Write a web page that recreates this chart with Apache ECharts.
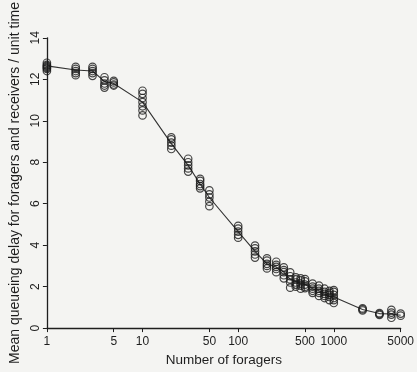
<!DOCTYPE html>
<html>
<head>
<meta charset="utf-8">
<script src="https://cdn.jsdelivr.net/npm/echarts@6/dist/echarts.min.js"></script>
<style>
  html, body { margin: 0; padding: 0; background: #f4f4f2; }
  #chart { width: 417px; height: 372px; }
</style>
</head>
<body>
<div id="chart"></div>
<script>
  // number of foragers in each run group
  var foragers = [1, 2, 3, 4, 5, 10, 20, 30, 40, 50, 100, 150, 200, 250, 300, 350, 400, 450, 500, 600, 700, 800, 900, 1000, 2000, 3000, 4000, 5000];
  // replicate delays, one list per group
  var delays = [
    [12.4, 12.5, 12.55, 12.6, 12.65, 12.7, 12.8],
    [12.2, 12.3, 12.4, 12.5, 12.6],
    [12.17, 12.3, 12.4, 12.5, 12.6],
    [11.6, 11.7, 11.8, 11.95, 12.1],
    [11.7, 11.75, 11.85, 11.93],
    [10.26, 10.5, 10.7, 10.9, 11.1, 11.3, 11.45],
    [8.64, 8.8, 8.95, 9.1, 9.2],
    [7.55, 7.7, 7.85, 8.0, 8.17],
    [6.74, 6.85, 6.95, 7.1, 7.2],
    [5.88, 6.1, 6.3, 6.45, 6.64],
    [4.36, 4.5, 4.65, 4.8, 4.93],
    [3.4, 3.55, 3.7, 3.85, 3.98],
    [2.88, 3.0, 3.1, 3.25, 3.36],
    [2.7, 2.85, 2.95, 3.05, 3.2],
    [2.4, 2.55, 2.7, 2.8, 2.93],
    [1.95, 2.2, 2.35, 2.5, 2.69],
    [2.0, 2.1, 2.2, 2.35, 2.45],
    [1.9, 2.05, 2.15, 2.3, 2.4],
    [1.93, 2.0, 2.1, 2.25, 2.36],
    [1.7, 1.8, 1.9, 2.0, 2.15],
    [1.55, 1.7, 1.8, 1.9, 2.05],
    [1.45, 1.55, 1.65, 1.75, 1.9],
    [1.35, 1.5, 1.6, 1.7, 1.8],
    [1.21, 1.35, 1.45, 1.6, 1.75, 1.83],
    [0.85, 0.9, 0.95],
    [0.64, 0.68, 0.72],
    [0.5, 0.65, 0.75, 0.88],
    [0.6, 0.7]
  ];
  // the line through the groups
  var meanDelay = [12.65, 12.45, 12.4, 11.9, 11.8, 10.9, 8.9, 7.85, 6.95, 6.3, 4.65, 3.7, 3.1, 2.95, 2.7, 2.35, 2.25, 2.15, 2.1, 1.9, 1.8, 1.65, 1.55, 1.5, 0.9, 0.7, 0.68, 0.62];
  var xTicks = [1, 5, 10, 50, 100, 500, 1000, 5000];

  var ink = '#1e1e1e';
  var font = 'Liberation Sans, Arial, sans-serif';

  // x axis is log10(foragers) on a value axis so ticks can sit at 5, 50, 500...
  var lg = function (v) { return Math.log10(v); };
  var xTickPos = xTicks.map(lg);

  var points = [];
  foragers.forEach(function (f, i) {
    delays[i].forEach(function (d) { points.push([lg(f), d]); });
  });
  var linePts = foragers.map(function (f, i) { return [lg(f), meanDelay[i]]; });

  var chart = echarts.init(document.getElementById('chart'));
  chart.setOption({
    backgroundColor: '#f4f4f2',
    animation: false,
    grid: { left: 43, right: 14, top: 36, bottom: 42 },
    xAxis: {
      type: 'value',
      min: 0,
      max: lg(5000),
      name: 'Number of foragers',
      nameLocation: 'middle',
      nameGap: 24,
      nameTextStyle: { color: ink, fontFamily: font, fontSize: 13.5 },
      splitLine: { show: false },
      axisLine: { lineStyle: { color: ink, width: 1.3 } },
      axisTick: { length: 4, customValues: xTickPos, lineStyle: { color: ink } },
      axisLabel: {
        customValues: xTickPos,
        margin: 8,
        color: ink,
        fontFamily: font,
        fontSize: 12,
        formatter: function (v) { return String(Math.round(Math.pow(10, v))); }
      }
    },
    yAxis: {
      type: 'value',
      min: 0,
      max: 14,
      interval: 2,
      name: 'Mean queueing delay for foragers and receivers / unit time',
      nameLocation: 'middle',
      nameGap: 23,
      nameTextStyle: { color: ink, fontFamily: font, fontSize: 14 },
      splitLine: { show: false },
      axisLine: { show: true, lineStyle: { color: ink, width: 1.3 } },
      axisTick: { show: true, length: 4, lineStyle: { color: ink } },
      axisLabel: { rotate: 90, margin: 5, color: ink, fontFamily: font, fontSize: 12 }
    },
    series: [{
      type: 'line',
      data: linePts,
      showSymbol: false,
      lineStyle: { color: '#333', width: 1.1 },
      z: 1
    }, {
      type: 'scatter',
      data: points,
      symbol: 'circle',
      symbolSize: 7.5,
      itemStyle: { color: 'rgba(0,0,0,0)', borderColor: '#1a1a1a', borderWidth: 1.2 },
      z: 2
    }]
  });
</script>
</body>
</html>
